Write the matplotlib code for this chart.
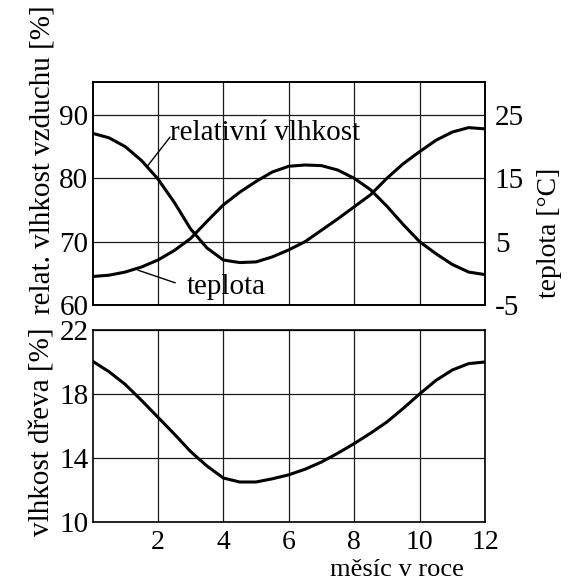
import matplotlib
matplotlib.use("Agg")
import matplotlib.pyplot as plt

plt.rcParams["font.family"] = ["Liberation Serif", "DejaVu Serif"]
plt.rcParams["font.size"] = 21
plt.rcParams["axes.unicode_minus"] = False

# month of year, sampled every half month
months = [0, 0.5, 1, 1.5, 2, 2.5, 3, 3.5, 4, 4.5, 5, 5.5, 6,
          6.5, 7, 7.5, 8, 8.5, 9, 9.5, 10, 10.5, 11, 11.5, 12]

# relative air humidity [%]
humidity = [87.1, 86.4, 85.0, 82.8, 79.9, 76.2, 72.0, 69.0, 67.1, 66.7, 66.8, 67.6, 68.7,
            70.0, 71.8, 73.6, 75.5, 77.4, 80.0, 82.3, 84.2, 86.0, 87.3, 88.0, 87.8]

# air temperature [°C]
temperature = [-0.5, -0.3, 0.2, 1.0, 2.1, 3.6, 5.5, 8.2, 10.8, 12.8, 14.5, 16.0, 16.9,
               17.1, 17.0, 16.3, 15.0, 13.2, 10.6, 7.7, 5.0, 3.1, 1.4, 0.2, -0.2]

# wood moisture content [%]
wood_moisture = [20.05, 19.4, 18.6, 17.6, 16.55, 15.5, 14.4, 13.5, 12.75, 12.5, 12.5, 12.7, 12.95,
                 13.3, 13.75, 14.3, 14.9, 15.55, 16.25, 17.1, 18.0, 18.85, 19.5, 19.9, 20.0]

x_ticks = [2, 4, 6, 8, 10, 12]
hum_ticks = [60, 70, 80, 90]
temp_ticks = [-5, 5, 15, 25]
wood_ticks = [10, 14, 18, 22]

W, H = 572, 582
fig = plt.figure(figsize=(W / 100, H / 100), dpi=100)

left, right = 92.5 / W, 485 / W
ax1 = fig.add_axes([left, 1 - 305 / H, right - left, (305 - 82) / H])
ax2 = fig.add_axes([left, 1 - 522 / H, right - left, (522 - 330) / H])


def style(ax):
    ax.grid(True, color="#1a1a1a", linewidth=0.9)
    ax.set_axisbelow(True)
    for s in ax.spines.values():
        s.set_linewidth(1.2)
        s.set_color("black")
    ax.tick_params(length=0, pad=3, labelsize=21)
    ax.set_xlim(0, 12)
    ax.set_xticks(x_ticks)


# top panel: humidity (left) and temperature (right)
style(ax1)
ax1.plot(months, humidity, color="black", linewidth=2.2)
ax1.set_ylim(60, 95.2)
ax1.set_yticks(hum_ticks)
ax1.set_xticklabels([])

ax1r = ax1.twinx()
ax1r.plot(months, temperature, color="black", linewidth=2.2)
ax1r.set_ylim(-5, 30.2)
ax1r.set_yticks(temp_ticks)
ax1r.tick_params(length=0, pad=7, labelsize=21)
for s in ax1r.spines.values():
    s.set_linewidth(1.2)

ax1.text(2.37, 87.1, "relativní vlhkost", ha="left", va="center")
ax1.annotate("", xy=(1.66, 81.8), xytext=(2.37, 86.5),
             arrowprops=dict(arrowstyle="-", lw=1.0, color="black",
                             shrinkA=0, shrinkB=0))
ax1.text(2.88, 62.8, "teplota", ha="left", va="center")
ax1.annotate("", xy=(1.39, 65.5), xytext=(2.53, 63.5),
             arrowprops=dict(arrowstyle="-", lw=1.0, color="black",
                             shrinkA=0, shrinkB=0))

# bottom panel: wood moisture
style(ax2)
ax2.plot(months, wood_moisture, color="black", linewidth=2.2)
ax2.set_ylim(10, 22)
ax2.set_yticks(wood_ticks)
ax2.tick_params(axis="x", pad=5.5, labelsize=20)

fig.text(43 / W, 1 - 160 / H, "relat. vlhkost vzduchu [%]", rotation=90,
         ha="center", va="center", fontsize=21)
fig.text(43 / W, 1 - 432 / H, "vlhkost dřeva [%]", rotation=90,
         ha="center", va="center", fontsize=21)
fig.text(549 / W, 1 - 233 / H, "teplota [°C]", rotation=90,
         ha="center", va="center", fontsize=20)
fig.text(397 / W, 1 / H, "měsíc v roce", ha="center", va="bottom", fontsize=19)

fig.savefig("out.png", dpi=100)
